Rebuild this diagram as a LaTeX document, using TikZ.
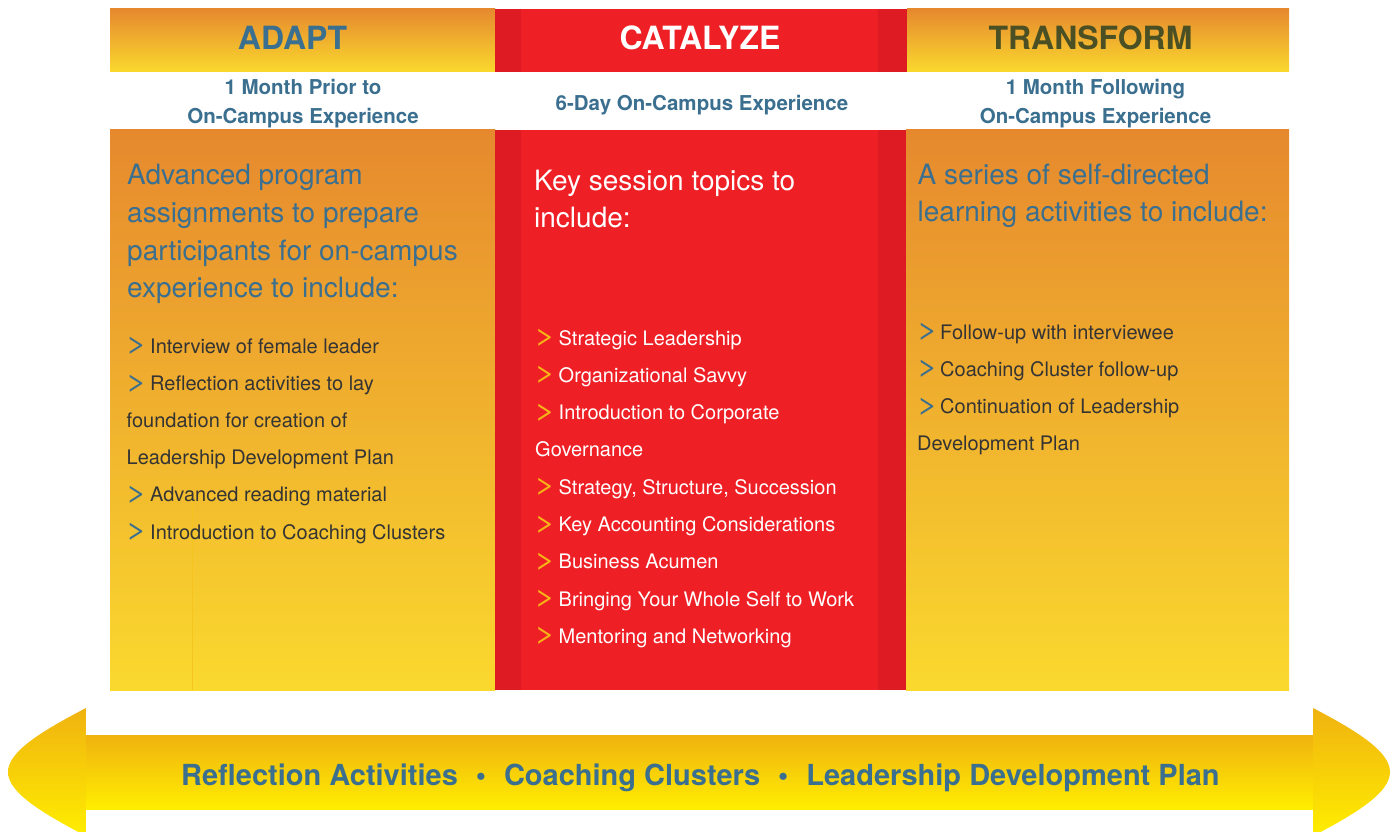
\documentclass[tikz,border=0pt]{standalone}
\usepackage{fontspec}
\setmainfont{TeX Gyre Heros}
\definecolor{hdblue}{RGB}{59,111,143}
\definecolor{olivetxt}{RGB}{74,80,36}
\definecolor{txtgray}{RGB}{52,52,52}
\definecolor{orT}{RGB}{230,137,46}
\definecolor{orB}{RGB}{250,217,46}
\definecolor{redM}{RGB}{238,31,37}
\definecolor{redD}{RGB}{222,26,35}
\definecolor{arT}{RGB}{240,178,16}
\definecolor{arB}{RGB}{255,238,0}
\definecolor{chevY}{RGB}{248,181,24}
\definecolor{thinY}{RGB}{246,196,30}
\newcommand{\chv}{\scalebox{1.55}[1.12]{>}}
\begin{document}
\begin{tikzpicture}[x=1pt,y=-1pt,
  txt/.style={inner sep=0pt, anchor=base west},
  ctr/.style={inner sep=0pt, anchor=base},
  title/.style={ctr, font=\fontsize{32}{32}\selectfont\bfseries},
  sub/.style={ctr, font=\fontsize{20.5}{20.5}\selectfont\bfseries, text=hdblue},
  intro/.style={txt, font=\fontsize{28}{28}\selectfont, text=hdblue},
  introW/.style={intro, text=white},
  item/.style={txt, font=\fontsize{20}{20}\selectfont, text=txtgray},
  itemW/.style={item, text=white},
  chevB/.style={txt, font=\fontsize{24}{24}\selectfont, text=hdblue, yshift=0.5pt},
  chevO/.style={chevB, text=chevY},
  colshade/.style={top color=orT, bottom color=orB},
  arrshade/.style={top color=arT, bottom color=arB},
]
\useasboundingbox (0,0) rectangle (1393,832);
\clip (0,0) rectangle (1393,832);

% ---- header band ----
\shade[colshade] (110,9) rectangle (495,72);
\fill[redM] (495,9) rectangle (907,72);
\fill[redD] (495,9) rectangle (521,72);
\fill[redD] (878,9) rectangle (907,72);
\shade[colshade] (907,9) rectangle (1289,72);

% ---- column bodies ----
\shade[colshade] (110,130) rectangle (495,690);
\fill[redM] (495,130) rectangle (906,690);
\fill[redD] (495,130) rectangle (521,690);
\fill[redD] (878,130) rectangle (906,690);
\shade[colshade] (906,130) rectangle (1289,690);
\draw[thinY, line width=0.7pt] (192.3,493) -- (192.3,690);

% ---- bottom double arrow ----
\shade[arrshade] (86,735) rectangle (1313,809);
\shade[arrshade] (86,708) .. controls (40,732) and (8,752) .. (8,772)
   .. controls (8,792) and (40,812) .. (86,836) -- cycle;
\shade[arrshade] (1313,708) .. controls (1359,732) and (1390,752) .. (1390,772)
   .. controls (1390,792) and (1359,812) .. (1313,836) -- cycle;

% ---- titles ----
\node[title, text=hdblue] (adapt) at (292.5,50) {ADAPT};
\node[title, text=white] (catalyze) at (700,49.5) {CATALYZE};
\node[title, text=olivetxt] (transform) at (1090.5,50) {TRANSFORM};

\node[sub] (subAa) at (303,94.3) {1 Month Prior to};
\node[sub] (subAb) at (303,123.3) {On-Campus Experience};
\node[sub] (subC) at (702,111) {6-Day On-Campus Experience};
\node[sub] (subTa) at (1095.5,94.3) {1 Month Following};
\node[sub] (subTb) at (1095.5,123.3) {On-Campus Experience};

% ---- left column ----
\node[intro] (ia1) at (127,185) {Advanced program};
\node[intro] (ia2) at (127,222.5) {assignments to prepare};
\node[intro] (ia3) at (127,260) {participants for on-campus};
\node[intro] (ia4) at (127,297.5) {experience to include:};

\node[chevB] (ca1) at (125.5,353.3) {\chv};
\node[item] (la1) at (150,353.3) {Interview of female leader};
\node[chevB] (ca2) at (125.5,390.5) {\chv};
\node[item] (la2) at (150,390.5) {Reflection activities to lay};
\node[item] (la3) at (126.5,427.6) {foundation for creation of};
\node[item] (la4) at (126.5,464.8) {Leadership Development Plan};
\node[chevB] (ca5) at (125.5,501.9) {\chv};
\node[item] (la5) at (150,501.9) {Advanced reading material};
\node[chevB] (ca6) at (125.5,539.1) {\chv};
\node[item] (la6) at (150,539.1) {Introduction to Coaching Clusters};

% ---- centre column ----
\node[introW] (ic1) at (534,190.7) {Key session topics to};
\node[introW] (ic2) at (534,227.5) {include:};

\node[chevO] (cc1) at (534,345) {\chv};
\node[itemW] (lc1) at (558.5,345) {Strategic Leadership};
\node[chevO] (cc2) at (534,382.3) {\chv};
\node[itemW] (lc2) at (558.5,382.3) {Organizational Savvy};
\node[chevO] (cc3) at (534,419.6) {\chv};
\node[itemW] (lc3) at (558.5,419.6) {Introduction to Corporate};
\node[itemW] (lc4) at (535,456.9) {Governance};
\node[chevO] (cc5) at (534,494.2) {\chv};
\node[itemW] (lc5) at (558.5,494.2) {Strategy, Structure, Succession};
\node[chevO] (cc6) at (534,531.5) {\chv};
\node[itemW] (lc6) at (558.5,531.5) {Key Accounting Considerations};
\node[chevO] (cc7) at (534,568.8) {\chv};
\node[itemW] (lc7) at (558.5,568.8) {Business Acumen};
\node[chevO] (cc8) at (534,606.1) {\chv};
\node[itemW] (lc8) at (558.5,606.1) {Bringing Your Whole Self to Work};
\node[chevO] (cc9) at (534,643.4) {\chv};
\node[itemW] (lc9) at (558.5,643.4) {Mentoring and Networking};

% ---- right column ----
\node[intro] (it1) at (917.5,185) {A series of self-directed};
\node[intro] (it2) at (917.5,222) {learning activities to include:};

\node[chevB] (ct1) at (916.5,339) {\chv};
\node[item] (lt1) at (940,339) {Follow-up with interviewee};
\node[chevB] (ct2) at (916.5,376.3) {\chv};
\node[item] (lt2) at (940,376.3) {Coaching Cluster follow-up};
\node[chevB] (ct3) at (916.5,413.5) {\chv};
\node[item] (lt3) at (940,413.5) {Continuation of Leadership};
\node[item] (lt4) at (917,450.8) {Development Plan};

% ---- bottom banner text ----
\node[ctr, font=\fontsize{29}{29}\selectfont\bfseries, text=hdblue] (banner) at (700.4,785)
  {Reflection Activities\hspace{18pt}•\hspace{18pt}Coaching Clusters\hspace{18pt}•\hspace{18pt}Leadership Development Plan};
\end{tikzpicture}
\end{document}
